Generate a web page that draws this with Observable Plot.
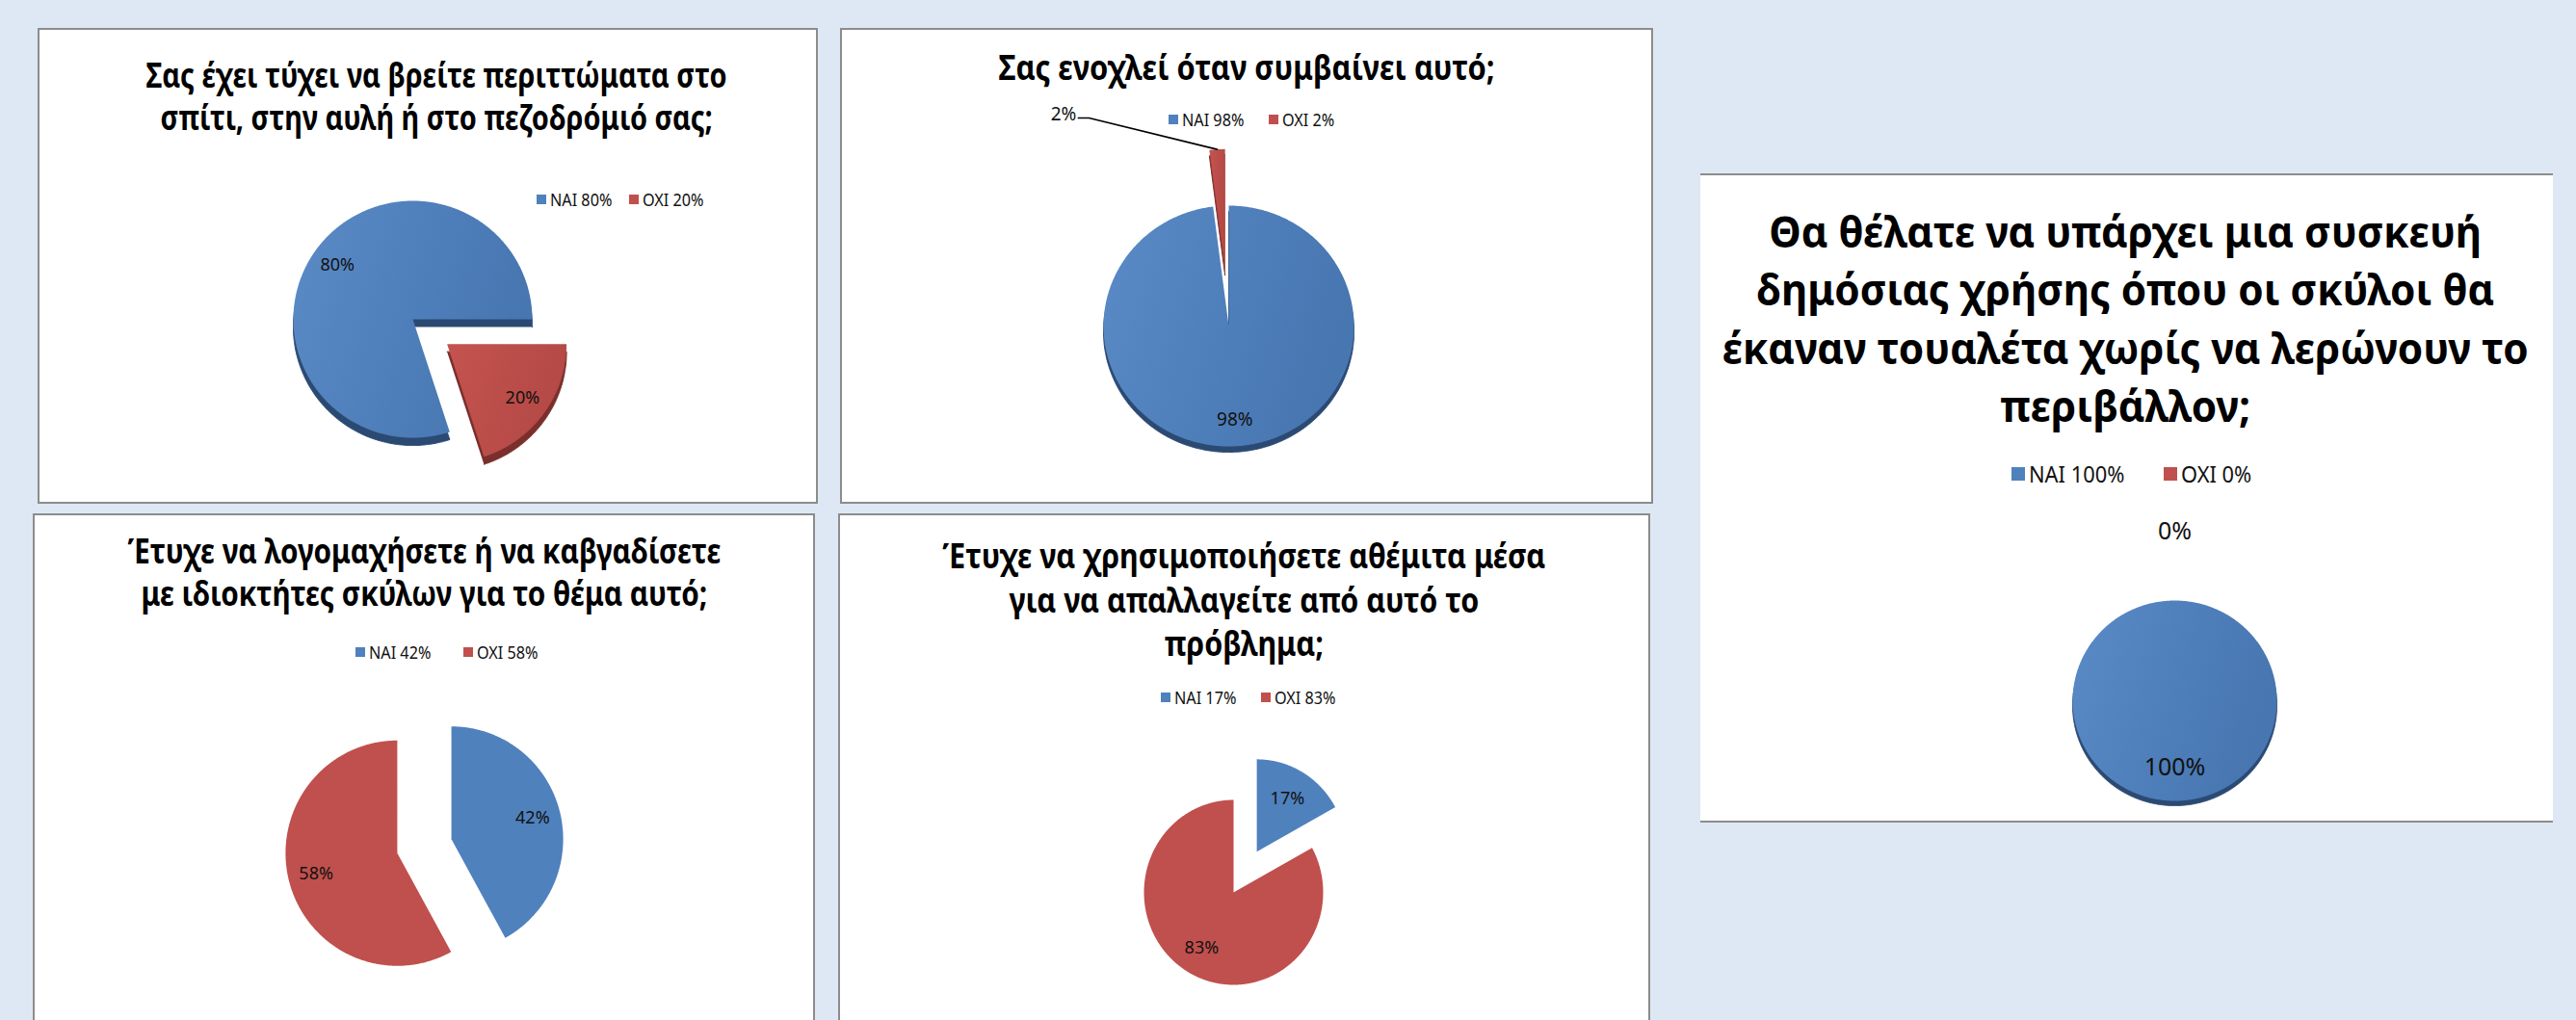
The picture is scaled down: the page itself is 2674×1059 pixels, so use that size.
<!DOCTYPE html>
<html>
<head>
<meta charset="utf-8">
<script src="https://cdn.jsdelivr.net/npm/d3@7"></script>
<script src="https://cdn.jsdelivr.net/npm/@observablehq/plot@0.6"></script>
<style>
html,body{margin:0;padding:0;}
body{width:2674px;height:1059px;background:#dde8f4;position:relative;overflow:hidden;font-family:"Noto Sans",sans-serif;}
.panel{position:absolute;background:#fff;overflow:hidden;}
.title{position:absolute;text-align:center;font-weight:700;color:#000;white-space:nowrap;}
.title span{display:inline-block;text-align:center;transform-origin:50% 50%;}
.leg{position:absolute;display:flex;align-items:center;white-space:nowrap;color:#111;}
.leg i{display:inline-block;margin-right:4px;flex:none;}
.leg span{display:inline-block;transform-origin:0 50%;}
</style>
</head>
<body>
<svg width="0" height="0" style="position:absolute">
  <defs>
    <linearGradient id="gBlue" x1="0" y1="0" x2="1" y2="0.3">
      <stop offset="0" stop-color="#5a8bc6"/>
      <stop offset="1" stop-color="#4776b1"/>
    </linearGradient>
    <linearGradient id="gRed" x1="0" y1="0" x2="1" y2="0.3">
      <stop offset="0" stop-color="#c4534f"/>
      <stop offset="1" stop-color="#b44945"/>
    </linearGradient>
  </defs>
</svg>
<script>
// ---------- DATA ----------
const categories = ["NAI", "OXI"];
const titles = [
  ["Σας έχει τύχει να βρείτε περιττώματα στο", "σπίτι, στην αυλή ή στο πεζοδρόμιό σας;"],
  ["Σας ενοχλεί όταν συμβαίνει αυτό;"],
  ["Έτυχε να λογομαχήσετε ή να καβγαδίσετε", "με ιδιοκτήτες σκύλων για το θέμα αυτό;"],
  ["Έτυχε να χρησιμοποιήσετε αθέμιτα μέσα", "για να απαλλαγείτε από αυτό το", "πρόβλημα;"],
  ["Θα θέλατε να υπάρχει μια συσκευή", "δημόσιας χρήσης όπου οι σκύλοι θα", "έκαναν τουαλέτα χωρίς να λερώνουν το", "περιβάλλον;"]
];
const naiValues = [80, 98, 42, 17, 100];
const oxiValues = [20, 2, 58, 83, 0];

// ---------- STYLE / LAYOUT ----------
const flatColors = ["#4f81bd", "#c0504d"];
const gradColors = ["url(#gBlue)", "url(#gRed)"];
const shadowColors = ["#2b4a73", "#7a2f2d"];

const layout = [
  {left:39, top:29, w:810, h:494, border:"all", cx:389, cy:302, rx:124, ry:123, start:162,
   explode:[0,0.355], labelK:[0.78,0.78], shadow:8, grad:true, labelFs:18,
   title:{cx:414, y0:49, lh:44, fs:36, ref:0, target:603},
   legend:{y:178, xs:[518,614], fs:18, sq:10, sx:0.9}},
  {left:872, top:29, w:844, h:494, border:"all", cx:403, cy:309, rx:130, ry:125, start:0,
   explode:[0,0.47], labelK:[0.78,0.78], shadow:6, grad:true, labelFs:19,
   outside:{index:1, angle:-34.8, k:2.104, knee:0.085, leader:true},
   title:{cx:422, y0:41, lh:44, fs:36, ref:0, target:515},
   legend:{y:95, xs:[341,445], fs:18, sq:10, sx:0.9}},
  {left:34, top:533, w:812, h:540, border:"all", cx:406, cy:345, rx:116, ry:117, start:0,
   explode:[0.25,0.25], labelK:[0.75,0.75], shadow:0, grad:false, labelFs:18,
   title:{cx:406, y0:39, lh:44.5, fs:36, ref:0, target:616},
   legend:{y:144, xs:[335,447], fs:18, sq:10, sx:0.9}},
  {left:870, top:533, w:843, h:540, border:"all", cx:410, cy:393, rx:93, ry:96, start:0,
   explode:[0.51,0], labelK:[0.67,0.7], shadow:0, grad:false, labelFs:18,
   title:{cx:421, y0:44, lh:45.5, fs:36, ref:0, target:626},
   legend:{y:191, xs:[335,439], fs:18, sq:10, sx:0.9}},
  {left:1765, top:180, w:885, h:674, border:"tb", cx:492, cy:547, rx:106, ry:104, start:0,
   explode:[0,0], labelK:[0.67,0.67], shadow:5, grad:true, labelFs:25,
   outside:{index:1, angle:0, k:1.69, leader:false},
   title:{cx:441, y0:60, lh:60.5, fs:45, ref:2, target:837},
   legend:{y:312, xs:[323,481], fs:23, sq:14, sx:0.95}}
];

function buildSlices(values, startDeg, explode) {
  const total = d3.sum(values);
  let a = startDeg;
  return values.map((v, i) => {
    const span = v / total * 360;
    const a0 = a, a1 = a + span; a = a1;
    const mid = (a0 + a1) / 2 * Math.PI / 180;
    const ox = explode[i] * Math.sin(mid), oy = explode[i] * Math.cos(mid);
    const pts = [];
    if (span > 0) {
      if (span < 360) pts.push({x: ox, y: oy});
      const n = Math.max(2, Math.ceil(span * 2));
      for (let k = 0; k <= n; k++) {
        const t = (a0 + span * k / n) * Math.PI / 180;
        pts.push({x: ox + Math.sin(t), y: oy + Math.cos(t)});
      }
    }
    return {cat: categories[i], value: v, span, mid, ox, oy, pts};
  });
}

const measureCtx = document.createElement("canvas").getContext("2d");

layout.forEach((p, i) => {
  const panel = document.createElement("div");
  panel.className = "panel";
  Object.assign(panel.style, {left: p.left + "px", top: p.top + "px", width: p.w + "px", height: p.h + "px",
    boxShadow: p.border === "all" ? "inset 0 0 0 2px #8c8c8c" : "inset 0 2px 0 #8c8c8c, inset 0 -2px 0 #8c8c8c"});
  document.body.appendChild(panel);

  const values = [naiValues[i], oxiValues[i]];
  const slices = buildSlices(values, p.start, p.explode);
  const marks = [];
  if (p.shadow) {
    slices.forEach((s, j) => {
      if (s.span > 0) marks.push(Plot.line(s.pts, {x: "x", y: "y", fill: shadowColors[j], stroke: shadowColors[j], strokeWidth: 1, dy: p.shadow}));
    });
  }
  slices.forEach((s, j) => {
    if (s.span > 0) marks.push(Plot.line(s.pts, {x: "x", y: "y", fill: p.grad ? gradColors[j] : flatColors[j], stroke: "none"}));
  });
  const insideLabels = slices
    .map((s, j) => ({s, j}))
    .filter(({s, j}) => s.span > 0 && !(p.outside && p.outside.index === j))
    .map(({s, j}) => ({x: s.ox + p.labelK[j] * Math.sin(s.mid), y: s.oy + p.labelK[j] * Math.cos(s.mid), text: s.value + "%"}));
  marks.push(Plot.text(insideLabels, {x: "x", y: "y", text: "text", fontSize: p.labelFs, fill: "#111"}));
  if (p.outside) {
    const s = slices[p.outside.index];
    const ang = p.outside.angle * Math.PI / 180;
    const anchor = {x: p.outside.k * Math.sin(ang), y: p.outside.k * Math.cos(ang), text: s.value + "%"};
    if (p.outside.leader) {
      const outer = {x: s.ox + Math.sin(s.mid), y: s.oy + Math.cos(s.mid)};
      const knee = {x: anchor.x + p.outside.knee, y: anchor.y};
      marks.push(Plot.line([anchor, knee, outer], {x: "x", y: "y", stroke: "#000", strokeWidth: 1.6}));
      marks.push(Plot.text([anchor], {x: "x", y: "y", text: "text", textAnchor: "end", dx: -2, dy: -4, fontSize: p.labelFs, fill: "#111"}));
    } else {
      marks.push(Plot.text([anchor], {x: "x", y: "y", text: "text", fontSize: p.labelFs, fill: "#111"}));
    }
  }
  const chart = Plot.plot({
    width: p.w, height: p.h, margin: 0,
    x: {domain: [-1, 1], range: [p.cx - p.rx, p.cx + p.rx], axis: null},
    y: {domain: [-1, 1], range: [p.cy + p.ry, p.cy - p.ry], axis: null},
    style: {background: "transparent", fontFamily: "'Noto Sans', sans-serif", position: "absolute", left: "0px", top: "0px", overflow: "visible"},
    marks
  });
  panel.appendChild(chart);

  // title: one text block, lines separated by <br>, horizontally condensed
  const t = p.title;
  const tdiv = document.createElement("div");
  tdiv.className = "title";
  Object.assign(tdiv.style, {left: (t.cx - 600) + "px", width: "1200px", top: (t.y0 - t.lh / 2) + "px",
    fontSize: t.fs + "px", lineHeight: t.lh + "px"});
  const sp = document.createElement("span");
  titles[i].forEach((line, k) => {
    if (k > 0) sp.appendChild(document.createElement("br"));
    sp.appendChild(document.createTextNode(line));
  });
  tdiv.appendChild(sp);
  panel.appendChild(tdiv);
  measureCtx.font = `700 ${t.fs}px "Noto Sans"`;
  const sc = t.target / measureCtx.measureText(titles[i][t.ref]).width;
  sp.style.transform = `scaleX(${sc})`;

  // legend
  const L = p.legend;
  categories.forEach((c, j) => {
    const item = document.createElement("div");
    item.className = "leg";
    Object.assign(item.style, {left: L.xs[j] + "px", top: (L.y - 15) + "px", height: "30px", fontSize: L.fs + "px"});
    const sq = document.createElement("i");
    Object.assign(sq.style, {width: L.sq + "px", height: L.sq + "px", background: flatColors[j]});
    item.appendChild(sq);
    const tx = document.createElement("span");
    tx.textContent = `${c} ${values[j]}%`;
    tx.style.transform = `scaleX(${L.sx})`;
    item.appendChild(tx);
    panel.appendChild(item);
  });
});
</script>
</body>
</html>
